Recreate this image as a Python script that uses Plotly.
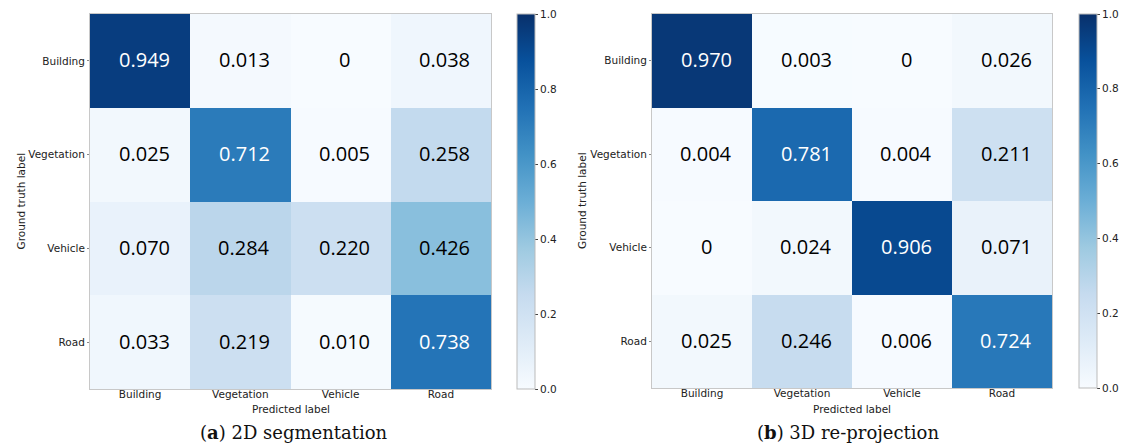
import plotly.graph_objects as go

# Class names shared by both confusion matrices
classes = ["Building", "Vegetation", "Vehicle", "Road"]

# Row-normalised confusion matrix: 2D segmentation (rows = ground truth)
cm_2d = [
    [0.949, 0.013, 0.0, 0.038],
    [0.025, 0.712, 0.005, 0.258],
    [0.070, 0.284, 0.220, 0.426],
    [0.033, 0.219, 0.010, 0.738],
]

# Row-normalised confusion matrix: 3D re-projection
cm_3d = [
    [0.970, 0.003, 0.0, 0.026],
    [0.004, 0.781, 0.004, 0.211],
    [0.0, 0.024, 0.906, 0.071],
    [0.025, 0.246, 0.006, 0.724],
]

colorbar_ticks = [0.0, 0.2, 0.4, 0.6, 0.8, 1.0]

# ColorBrewer "Blues", light to dark
blues = ["#f7fbff", "#deebf7", "#c6dbef", "#9ecae1", "#6baed6",
         "#4292c6", "#2171b5", "#08519c", "#08306b"]
colorscale = [[i / (len(blues) - 1), c] for i, c in enumerate(blues)]

W, H = 1122, 446
tick_font = dict(family="DejaVu Sans", size=10.5, color="#222222")
title_font = dict(family="DejaVu Sans", size=10.5, color="#222222")
cell_font_family = "Open Sans"
caption_font = dict(family="DejaVu Serif", size=18, color="#111111")

# pixel boxes of each panel: (left, right, top, bottom), colorbar left, caption centre
panels = [
    dict(cm=cm_2d, box=(90, 491, 14, 389), cbx=517, capx=294,
         caption="(<b>a</b>) 2D segmentation"),
    dict(cm=cm_3d, box=(652, 1052, 14, 388), cbx=1079, capx=848,
         caption="(<b>b</b>) 3D re-projection"),
]

fig = go.Figure()
annotations = []

for i, p in enumerate(panels):
    n = "" if i == 0 else str(i + 1)
    l, r, t, b = p["box"]
    xdom = [l / W, r / W]
    ydom = [(H - b) / H, (H - t) / H]

    fig.add_trace(go.Heatmap(
        z=p["cm"], x=classes, y=classes,
        xaxis="x" + n, yaxis="y" + n,
        colorscale=colorscale, zmin=0, zmax=1,
        colorbar=dict(
            x=p["cbx"] / W, xanchor="left", xpad=0, ypad=0,
            y=(ydom[0] + ydom[1]) / 2, yanchor="middle",
            len=b - t, lenmode="pixels",
            thickness=18, thicknessmode="pixels",
            outlinecolor="#bbbbbb", outlinewidth=1,
            tickvals=colorbar_ticks, tickformat=".1f",
            ticks="outside", ticklen=3, tickcolor="#444444",
            tickfont=tick_font,
        ),
        hoverinfo="skip",
    ))

    fig.layout["xaxis" + n] = dict(
        domain=xdom, anchor="y" + n, type="category",
        showgrid=False, zeroline=False, tickfont=tick_font,
        showline=True, mirror=True, linecolor="#c8c8c8", linewidth=1,
        ticks="", ticklabelstandoff=-5,
    )
    fig.layout["yaxis" + n] = dict(
        domain=ydom, anchor="x" + n, type="category",
        autorange="reversed",
        showgrid=False, zeroline=False, tickfont=tick_font,
        showline=True, mirror=True, linecolor="#c8c8c8", linewidth=1,
        ticks="outside", ticklen=2, tickcolor="#888888", ticklabelstandoff=0,
    )

    # value labels in each cell
    for ri, row in enumerate(p["cm"]):
        for ci, v in enumerate(row):
            txt = "0" if v == 0 else f"{v:.3f}"
            annotations.append(dict(
                x=classes[ci], y=classes[ri], xref="x" + n, yref="y" + n,
                text=txt, showarrow=False, xshift=4, yshift=1,
                font=dict(family=cell_font_family, size=20,
                          color="white" if v > 0.5 else "black"),
            ))

    # axis titles
    annotations.append(dict(
        x=(l + r) / 2 / W, y=(H - 409) / H, xref="paper", yref="paper",
        text="Predicted label", showarrow=False, font=title_font,
        xanchor="center", yanchor="middle",
    ))
    annotations.append(dict(
        x=(l - 70) / W, y=(H - (t + b) / 2) / H, xref="paper", yref="paper",
        text="Ground truth label", showarrow=False, font=title_font,
        textangle=-90, xanchor="center", yanchor="middle",
    ))
    # sub-figure caption
    annotations.append(dict(
        x=p["capx"] / W, y=(H - 432) / H, xref="paper", yref="paper",
        text=p["caption"], showarrow=False, font=caption_font,
        xanchor="center", yanchor="middle",
    ))

fig.update_layout(
    width=W, height=H,
    margin=dict(l=0, r=0, t=0, b=0),
    paper_bgcolor="white", plot_bgcolor="white",
    annotations=annotations,
    showlegend=False,
)

fig.write_html("out.html")
